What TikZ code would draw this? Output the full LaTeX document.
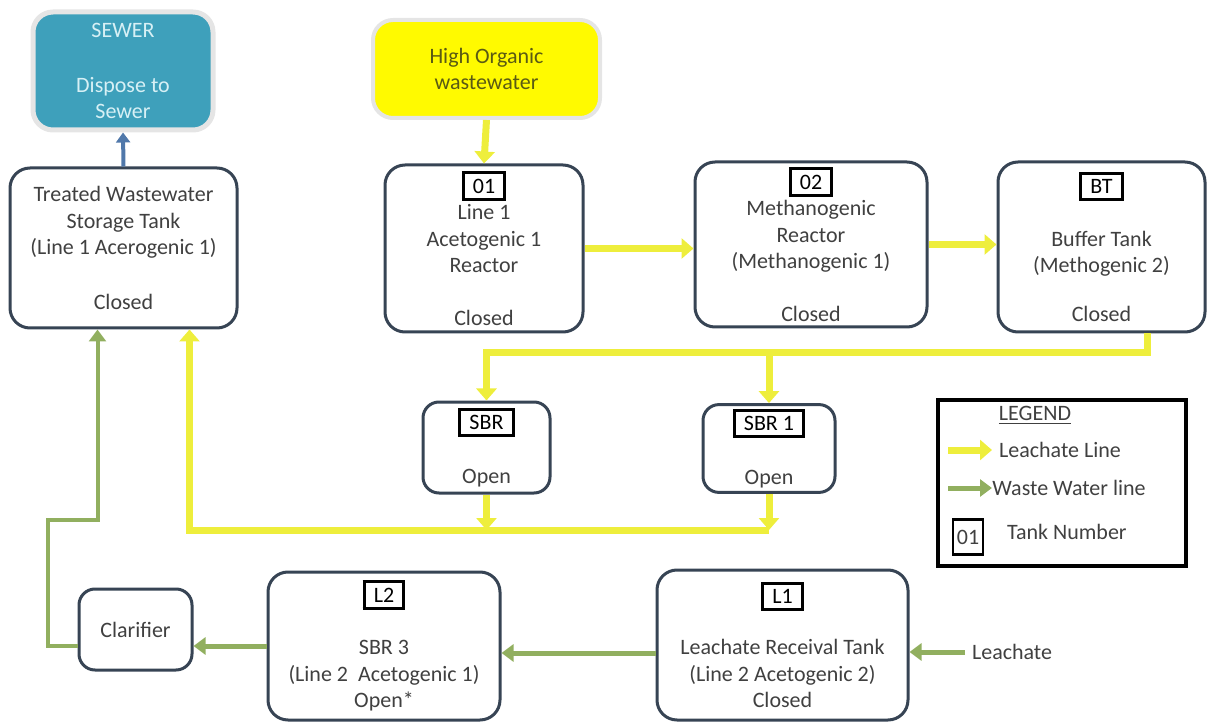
\documentclass[tikz,border=0pt]{standalone}
\usepackage{fontspec}
\setmainfont{Carlito}
\usetikzlibrary{arrows.meta}

\definecolor{tankline}{RGB}{55,68,84}
\definecolor{textgray}{RGB}{64,64,64}
\definecolor{sewerfill}{RGB}{62,160,187}
\definecolor{sewertext}{RGB}{215,240,245}
\definecolor{feedfill}{RGB}{255,250,0}
\definecolor{feedtext}{RGB}{90,90,20}
\definecolor{leachyel}{RGB}{238,238,60}
\definecolor{wastegrn}{RGB}{145,175,95}
\definecolor{sewerblue}{RGB}{80,120,170}

\newcommand{\tagbox}[1]{{\color{black}\setlength{\fboxsep}{2.2pt}\setlength{\fboxrule}{1.5pt}\fbox{\,#1\,}}}

\tikzset{
    tank/.style={draw=tankline, line width=1.5pt, rounded corners=10pt, fill=white, align=center, inner sep=2pt},
    sewer/.style={draw=gray!20, line width=2.5pt, rounded corners=10pt, fill=sewerfill, text=sewertext, align=center},
    feed/.style={draw=gray!20, line width=2pt, rounded corners=10pt, fill=feedfill, text=feedtext, align=center},
    leach/.style={draw=leachyel, line width=3.5pt, >={Triangle[length=6pt,width=10pt]}},
    waste/.style={draw=wastegrn, line width=2.5pt, >={Triangle[length=6pt,width=8.5pt]}},
    blueflow/.style={draw=sewerblue, line width=2pt, >={Triangle[length=5pt,width=7pt]}},
}

\begin{document}
\begin{tikzpicture}[x=0.5pt, y=-0.5pt, font=\fontsize{11}{13.3}\selectfont, text=textgray]
    \useasboundingbox (0,0) rectangle (1207,722);

    % sewer and the treated water tank
    \node[sewer, minimum width=90pt, minimum height=59pt] (sewer) at (123,71) {SEWER\\[14pt]Dispose to\\Sewer};
    \node[tank, minimum width=113.5pt, minimum height=80pt] (treated) at (123.5,248)
        {Treated Wastewater\\Storage Tank\\(Line 1 Acerogenic 1)\\[14pt]Closed};
    \draw[blueflow,->] (treated.north) -- (sewer.south);

    % line 1
    \node[feed, minimum width=113.5pt, minimum height=49pt] (feed) at (486.5,69) {High Organic\\wastewater};
    \node[tank, minimum width=99pt, minimum height=83.5pt] (acet) at (484,248.5)
        {\tagbox{01}\\Line 1\\Acetogenic 1\\Reactor\\[13pt]Closed};
    \node[tank, minimum width=116pt, minimum height=82.5pt] (meth) at (811,244.5)
        {\tagbox{02}\\Methanogenic\\Reactor\\(Methanogenic 1)\\[13pt]Closed};
    \node[tank, minimum width=103.5pt, minimum height=85pt] (buffer) at (1101.5,247)
        {\tagbox{BT}\\[13pt]Buffer Tank\\(Methogenic 2)\\[11pt]Closed};
    \node[tank, rounded corners=8pt, minimum width=63.5pt, minimum height=45.5pt] (sbr) at (486.5,447.5)
        {\tagbox{SBR}\\[14pt]Open};
    \node[tank, rounded corners=8pt, minimum width=66pt, minimum height=43.5pt] (sbrone) at (769,448.5)
        {\tagbox{SBR 1}\\[14pt]Open};

    \draw[leach,->] (feed.south) -- (acet.north);
    \draw[leach,->] (acet.east) -- (acet.east -| meth.west);
    \draw[leach,->] (meth.east) -- (meth.east -| buffer.west);
    \coordinate (split) at (0,353);
    \coordinate (ret) at (0,530);
    \draw[leach,->] ([xshift=23pt]buffer.south) |- (split -| sbr.north) -- (sbr.north);
    \draw[leach,->] (split -| sbrone.north) -- (sbrone.north);
    \draw[leach,->] (sbr.south) -- (sbr.south |- ret);
    \draw[leach,->] (sbrone.south) -- (sbrone.south |- ret);
    \draw[leach,->] (sbrone.south |- ret) -| ([xshift=33pt]treated.south);

    % line 2
    \node[tank, rounded corners=8pt, minimum width=56.5pt, minimum height=40.5pt] (clar) at (135.5,629.5) {Clarifier};
    \node[tank, minimum width=116pt, minimum height=74pt] (sbrthree) at (384,646)
        {\tagbox{L2}\\[13pt]SBR 3\\(Line 2~~Acetogenic 1)\\Open*};
    \node[tank, minimum width=125.5pt, minimum height=75pt] (receival) at (782.5,645)
        {\tagbox{L1}\\[12pt]Leachate Receival Tank\\(Line 2 Acetogenic 2)\\Closed};
    \node[right] (leachate) at (965,652) {Leachate};

    \draw[waste,->] (leachate.west) -- (leachate.west -| receival.east);
    \draw[waste,->] ([yshift=-4pt]receival.west) -- ([yshift=-4pt]receival.west -| sbrthree.east);
    \draw[waste,->] (sbrthree.west) -- (sbrthree.west -| clar.east);
    \coordinate (wbend) at (48,520);
    \draw[waste,->,line width=2pt] ([yshift=-8pt]clar.west) -| (wbend) -| ([xshift=-13pt]treated.south);

    % legend
    \node[draw=black, line width=1.6pt, minimum width=124pt, minimum height=83pt] (legend) at (1062,483) {};
    \node (legtitle) at (1035,415) {\underline{LEGEND}};
    \node[right] (legleach) at (992,450) {Leachate Line};
    \node[right, inner sep=0pt] (legwaste) at (992,488) {Waste Water line};
    \node[draw=black, line width=1.4pt, minimum width=15pt, minimum height=17.5pt, inner sep=1pt] (legtag) at (968,537) {01};
    \node[right] (legtank) at (1000,532) {Tank Number};
    \draw[leach,->] ([xshift=-22pt]legleach.west) -- (legleach.west);
    \draw[waste,->] ([xshift=-22pt]legwaste.west) -- (legwaste.west);
\end{tikzpicture}
\end{document}
